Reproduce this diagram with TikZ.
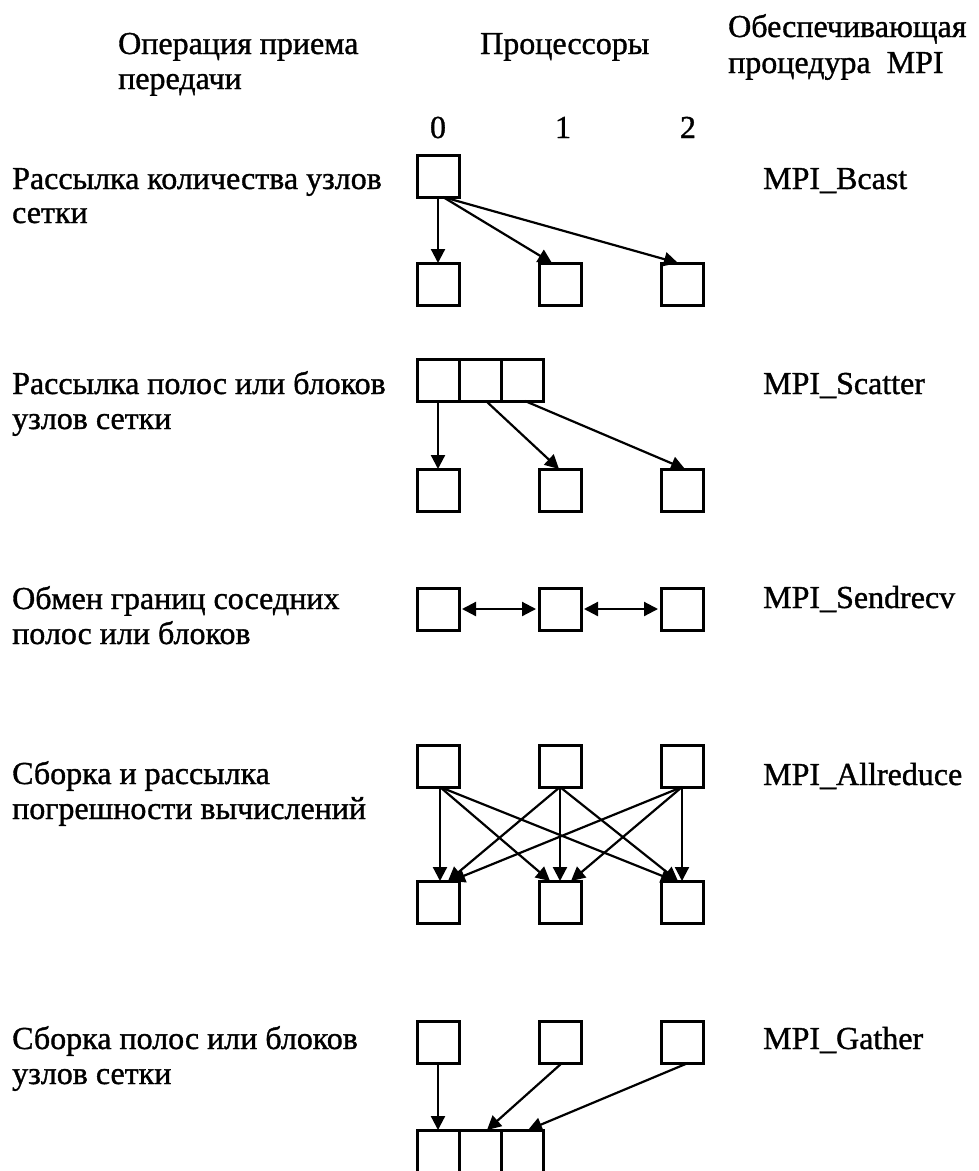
\documentclass[tikz,border=0pt]{standalone}
\usepackage{fontspec}
\setmainfont[FakeBold=1.1]{Liberation Serif}
\usetikzlibrary{arrows.meta}
\begin{document}
\begin{tikzpicture}[x=1pt,y=-1pt,
  box/.style={draw=black,line width=3pt,minimum size=42pt,inner sep=0pt,outer sep=0pt},
  lbl/.style={anchor=base west,inner sep=0pt,font=\fontsize{32}{36}\selectfont},
  num/.style={anchor=base,inner sep=0pt,font=\fontsize{32}{36}\selectfont},
  arr/.style={line width=2.2pt,-{Triangle[length=14pt,width=14pt]}},
  darr/.style={line width=2.2pt,{Triangle[length=14pt,width=14pt]}-{Triangle[length=14pt,width=14pt]},shorten <=3pt,shorten >=3pt}]
\useasboundingbox (0,0) rectangle (979,1171);
% headers
\node[lbl] (h1a) at (118,54) {Операция приема};
\node[lbl] (h1b) at (118,89) {передачи};
\node[lbl] (h2) at (480,54) {Процессоры};
\node[lbl] (h3a) at (728,37) {Обеспечивающая};
\node[lbl] (h3b) at (728,73) {процедура\ \ MPI};
\node[num] (n0) at (438,138) {0};
\node[num] (n1) at (563,138) {1};
\node[num] (n2) at (688,138) {2};
% left labels
\node[lbl] (l1a) at (12,189) {Рассылка количества узлов};
\node[lbl] (l1b) at (12,223) {сетки};
\node[lbl] (l2a) at (12,394) {Рассылка полос или блоков};
\node[lbl] (l2b) at (12,429) {узлов сетки};
\node[lbl] (l3a) at (12,609) {Обмен границ соседних};
\node[lbl] (l3b) at (12,644) {полос или блоков};
\node[lbl] (l4a) at (12,784) {Сборка и рассылка};
\node[lbl] (l4b) at (12,819) {погрешности вычислений};
\node[lbl] (l5a) at (12,1049) {Сборка полос или блоков};
\node[lbl] (l5b) at (12,1084) {узлов сетки};
% right labels
\node[lbl] (r1) at (763,189) {MPI\_Bcast};
\node[lbl] (r2) at (763,394) {MPI\_Scatter};
\node[lbl] (r3) at (763,608) {MPI\_Sendrecv};
\node[lbl] (r4) at (763,785) {MPI\_Allreduce};
\node[lbl] (r5) at (763,1049) {MPI\_Gather};
% row 1: Bcast
\node[box] (a0) at (438,176) {};
\node[box] (b0) at (438,284) {};
\node[box] (b1) at (560,284) {};
\node[box] (b2) at (682,284) {};
\draw[arr] (a0.south) -- (b0.north);
\draw[arr] ([xshift=5pt]a0.south) -- ([xshift=-8pt]b1.north);
\draw[arr] ([xshift=5pt]a0.south) -- ([xshift=-4pt]b2.north);
% row 2: Scatter
\node[box] (s0) at (438,380) {};
\node[box] (s1) at (480,380) {};
\node[box] (s2) at (522,380) {};
\node[box] (c0) at (438,490) {};
\node[box] (c1) at (560,490) {};
\node[box] (c2) at (682,490) {};
\draw[arr] (s0.south) -- (c0.north);
\draw[arr] ([xshift=6pt]s1.south) -- ([xshift=-1pt]c1.north);
\draw[arr] ([xshift=3pt]s2.south) -- ([xshift=3pt]c2.north);
% row 3: Sendrecv
\node[box] (e0) at (438,609) {};
\node[box] (e1) at (560,609) {};
\node[box] (e2) at (682,609) {};
\draw[darr] (e0.east) -- (e1.west);
\draw[darr] (e1.east) -- (e2.west);
% row 4: Allreduce
\node[box] (t0) at (438,766) {};
\node[box] (t1) at (560,766) {};
\node[box] (t2) at (682,766) {};
\node[box] (u0) at (438,902) {};
\node[box] (u1) at (560,902) {};
\node[box] (u2) at (682,902) {};
\draw[arr] ([xshift=2pt]t0.south) -- ([xshift=2pt]u0.north);
\draw[arr] ([xshift=2pt]t0.south) -- ([xshift=-10pt]u1.north);
\draw[arr] ([xshift=2pt]t0.south) -- ([xshift=-7pt]u2.north);
\draw[arr] (t1.south) -- ([xshift=10pt]u0.north);
\draw[arr] (t1.south) -- (u1.north);
\draw[arr] (t1.south) -- ([xshift=-4pt]u2.north);
\draw[arr] (t2.south) -- ([xshift=13pt]u0.north);
\draw[arr] (t2.south) -- ([xshift=11pt]u1.north);
\draw[arr] (t2.south) -- (u2.north);
% row 5: Gather
\node[box] (g0) at (438,1042) {};
\node[box] (g1) at (560,1042) {};
\node[box] (g2) at (682,1042) {};
\node[box] (f0) at (438,1151) {};
\node[box] (f1) at (480,1151) {};
\node[box] (f2) at (522,1151) {};
\draw[arr] (g0.south) -- (f0.north);
\draw[arr] ([xshift=2pt]g1.south) -- ([xshift=7pt]f1.north);
\draw[arr] ([xshift=6pt]g2.south) -- ([xshift=6pt]f2.north);
\end{tikzpicture}
\end{document}
